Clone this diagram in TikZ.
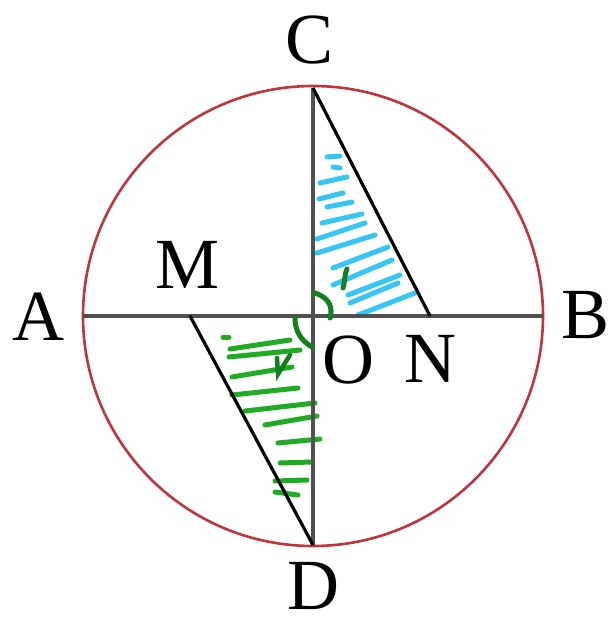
\documentclass[tikz,border=0pt]{standalone}
\usepackage{fontspec}
\setmainfont{Liberation Serif}
\definecolor{hatchblue}{RGB}{52,198,245}
\definecolor{hatchgreen}{RGB}{30,172,35}
\definecolor{markgreen}{RGB}{18,128,30}
\definecolor{rimred}{RGB}{192,52,62}
\definecolor{axisgray}{RGB}{80,80,80}
\begin{document}
\begin{tikzpicture}[x=1pt,y=-1pt,
  axisline/.style={draw=axisgray,line width=4.2pt},
  chord/.style={draw=black,line width=3.2pt},
  rim/.style={draw=rimred,line width=2.6pt},
  lbl/.style={inner sep=0pt,font=\fontsize{72}{72}\selectfont},
  bluehatch/.style={draw=hatchblue,line width=5pt,line cap=round},
  greenhatch/.style={draw=hatchgreen,line width=5pt,line cap=round},
  anglemark/.style={draw=markgreen,line width=5pt,line cap=round}
]
\useasboundingbox (0,0) rectangle (610,621);
\fill[white] (0,0) rectangle (610,621);
\coordinate (O) at (313,316);
\coordinate (A) at (83,316);
\coordinate (B) at (543,316);
\coordinate (C) at (313,88);
\coordinate (D) at (313,545);
\coordinate (M) at (190,316);
\coordinate (N) at (430,316);
% hatching upper (blue)
\foreach \a/\b in {{(327,157)}/{(340,156)},{(333,167)}/{(340,168)},{(320,183)}/{(347,177)},{(319,199)}/{(343,193)},{(327,207)}/{(352,202)},{(322,223)}/{(362,214)},{(317,239)}/{(365,223)},{(317,253)}/{(375,235)},{(333,268)}/{(388,247)},{(333,285)}/{(392,260)},{(348,295)}/{(400,275)},{(350,303)}/{(398,283)},{(358,315)}/{(415,293)}}
  \draw[bluehatch] \a -- \b;
% hatching lower (green)
\foreach \a/\b in {{(223,337)}/{(229,337)},{(230,349)}/{(290,340)},{(229,357)}/{(300,350)},{(232,377)}/{(292,367)},{(232,395)}/{(298,388)},{(245,411)}/{(315,403)},{(265,425)}/{(317,416)},{(278,443)}/{(320,439)},{(280,463)}/{(312,462)},{(275,481)}/{(307,480)},{(275,492)}/{(298,495)}}
  \draw[greenhatch] \a -- \b;
% circle
\draw[rim] (O) circle (230);
% lines
\draw[axisline] (A) -- (B);
\draw[axisline] (C) -- (D);
\draw[chord] (C) -- (N);
\draw[chord] (M) -- (D);
% angle marks
\draw[anglemark] (315,293) .. controls (330,298) and (333,308) .. (330,318);
\draw[anglemark] (295,318) .. controls (295,330) and (300,340) .. (312,347);
\draw[anglemark] (347,269) .. controls (344,276) and (345,282) .. (343,288);
\draw[anglemark,line width=4.5pt] (277,358) -- (278,374) -- (290,355);
% labels
\node[lbl] (lC) at (310,40) {C};
\node[lbl] (lA) at (38,317) {A};
\node[lbl] (lB) at (586,315) {B};
\node[lbl] (lM) at (188,265) {M};
\node[lbl] (lO) at (348,360) {O};
\node[lbl] (lN) at (430,359) {N};
\node[lbl] (lD) at (313,586) {D};
\end{tikzpicture}
\end{document}
